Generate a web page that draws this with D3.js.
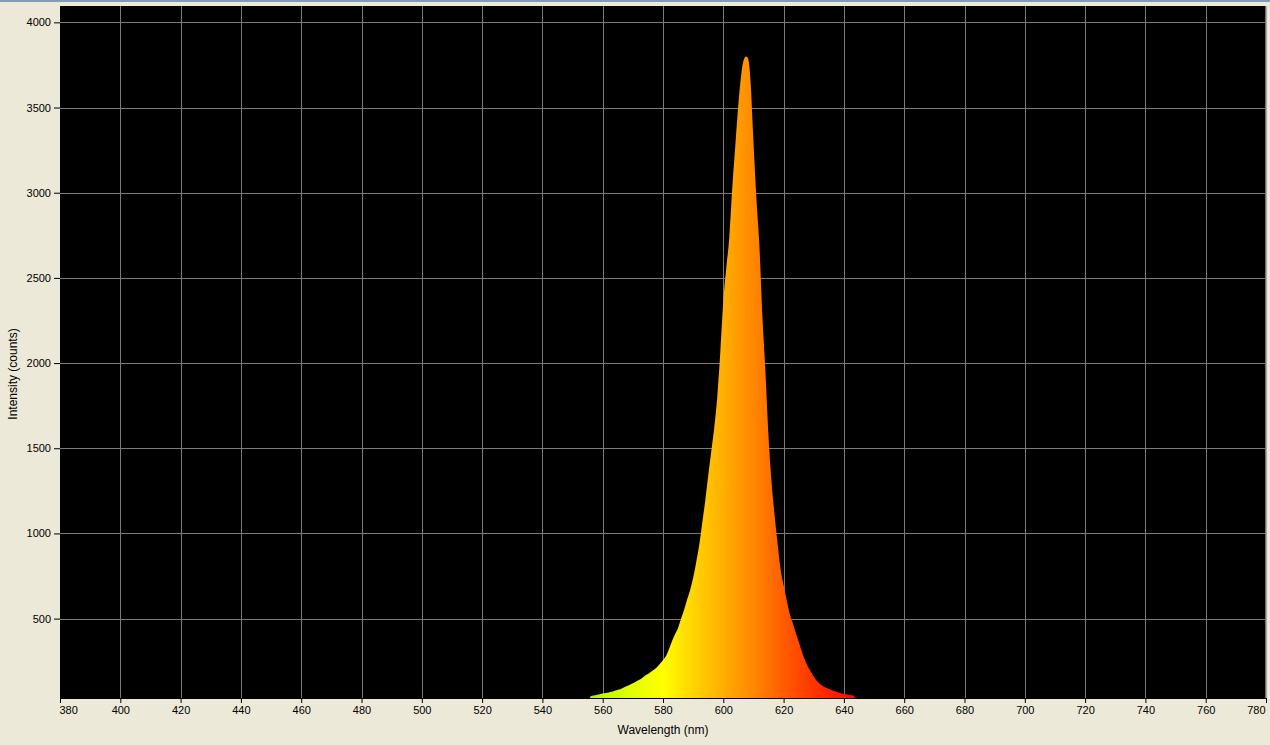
<!DOCTYPE html>
<html><head><meta charset="utf-8">
<script src="https://cdn.jsdelivr.net/npm/d3@7"></script>
<style>
html,body{margin:0;padding:0;background:#ece9d8;overflow:hidden;}
svg{display:block;}
text{font-family:"Liberation Sans",Arial,sans-serif;}
</style></head>
<body>
<svg id="c" width="1270" height="745"></svg>
<script>
const wavelengths = [555.8,556,557,558,559,560,561,562,563,564,565,566,567,568,569,570,571,572,573,574,575,576,577,578,579,580,581,582,583,584,585,586,587,588,589,590,591,592,593,594,595,596,597,598,599,600,601,602,603,604,605,606,606.5,607,607.5,608,608.5,609,610,611,612,613,614,615,616,617,618,619,620,621,622,623,624,625,626,627,628,629,630,631,632,633,634,635,636,637,638,639,640,641,642,643,643.8];
const intensities = [34,45,48,52,56,60,63,66,70,76,82,87,95,104,112,120,130,140,150,165,175,188,200,214,235,255,280,322,368,408,445,500,552,612,668,740,830,930,1060,1190,1340,1480,1620,1800,2060,2360,2560,2740,3035,3280,3520,3700,3760,3790,3800,3795,3765,3663,3300,2960,2680,2265,1941,1569,1304,1110,941,790,696,610,530,475,420,365,310,260,220,190,160,135,118,105,95,87,80,73,68,62,57,54,52,50,34];
const xTicks = d3.range(380, 781, 20);
const yTicks = [500,1000,1500,2000,2500,3000,3500,4000];
const colorStops = [[556,"#a8f000"],[560,"#c4f800"],[570,"#e4ff00"],[580,"#ffff00"],[590,"#ffd400"],[600,"#ffae00"],[610,"#ff8800"],[620,"#ff5c00"],[630,"#ff3400"],[640,"#ff1400"],[644,"#ff0800"]];

const svg = d3.select("#c");
const L=60, R=1266, T=6, B=698;
const x = d3.scaleLinear().domain([380,780]).range([L,R]);
const y = d3.scaleLinear().domain([34,4096]).range([B,T]);

svg.append("rect").attr("x",0).attr("y",0).attr("width",1270).attr("height",2).attr("fill","#7f9db9");
svg.append("rect").attr("x",L).attr("y",T).attr("width",R-L).attr("height",B-T).attr("fill","#000");

const g = svg.append("g");
g.selectAll(".gx").data(xTicks.filter(d=>d>380&&d<780)).enter().append("line")
 .attr("x1",d=>Math.round(x(d))+0.5).attr("x2",d=>Math.round(x(d))+0.5).attr("y1",T).attr("y2",B)
 .attr("stroke","#7a7a7a").attr("stroke-width",1);
g.selectAll(".gy").data(yTicks).enter().append("line")
 .attr("y1",d=>Math.round(y(d))+0.5).attr("y2",d=>Math.round(y(d))+0.5).attr("x1",L).attr("x2",R)
 .attr("stroke","#7a7a7a").attr("stroke-width",1);

const defs = svg.append("defs");
const grad = defs.append("linearGradient").attr("id","spec").attr("gradientUnits","userSpaceOnUse")
 .attr("x1",x(556)).attr("x2",x(644)).attr("y1",0).attr("y2",0);
colorStops.forEach(s=>grad.append("stop").attr("offset",(s[0]-556)/(644-556)).attr("stop-color",s[1]));

const data = wavelengths.map((w,i)=>({w, v:intensities[i]}));
const area = d3.area().x(d=>x(d.w)).y0(B).y1(d=>y(d.v)).curve(d3.curveMonotoneX);
svg.append("path").datum(data).attr("d",area).attr("fill","url(#spec)");

svg.append("rect").attr("x",R-1).attr("y",T).attr("width",1.5).attr("height",B-T).attr("fill","#6e6e6e");

const xa = svg.append("g").attr("transform",`translate(0,${B})`)
 .call(d3.axisBottom(x).tickValues(xTicks).tickSize(5).tickPadding(3).tickFormat(d3.format("d")));
xa.select(".domain").attr("stroke","#000").attr("d",`M${L},0.5H${R}`);
xa.selectAll("text").attr("font-size","11px").attr("fill","#000")
 .attr("text-anchor",d=>d===380?"start":(d===780?"end":"middle"))
 .attr("x",d=>d===380?-1:(d===780?-1:0));
xa.selectAll(".tick line").attr("stroke","#000");

const ya = svg.append("g").attr("transform",`translate(${L},0)`)
 .call(d3.axisLeft(y).tickValues(yTicks).tickSize(6).tickPadding(3).tickFormat(d3.format("d")));
ya.select(".domain").remove();
ya.selectAll("text").attr("font-size","11px").attr("fill","#000");
ya.selectAll(".tick line").attr("stroke","#000");

svg.append("text").attr("x",663).attr("y",734).attr("text-anchor","middle").attr("font-size","12px").attr("fill","#000").text("Wavelength (nm)");
svg.append("text").attr("transform","translate(17,374) rotate(-90)").attr("text-anchor","middle").attr("font-size","12px").attr("fill","#000").text("Intensity (counts)");
</script>
</body></html>
